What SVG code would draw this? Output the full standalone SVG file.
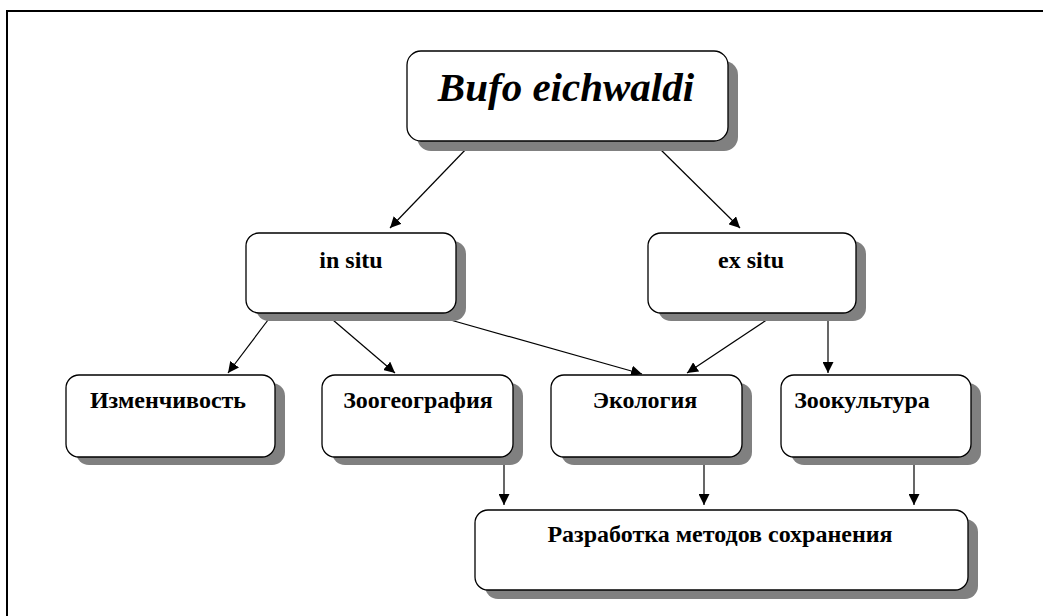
<svg xmlns="http://www.w3.org/2000/svg" width="1043" height="616" viewBox="0 0 1043 616">
<defs>
<style>
.sh{fill:#808080;stroke:none}
.bx{fill:#fff;stroke:#000;stroke-width:1.3}
.t{font-family:"Liberation Serif","Times New Roman",serif;font-weight:bold;font-size:24px;fill:#000;text-anchor:middle}
.ti{font-family:"Liberation Serif","Times New Roman",serif;font-weight:bold;font-style:italic;font-size:41px;fill:#000;text-anchor:middle}
.c{stroke:#000;stroke-width:1.2;fill:none;marker-end:url(#ah)}
</style>
<marker id="ah" viewBox="0 0 10 10" refX="10" refY="5" markerWidth="11" markerHeight="11" markerUnits="userSpaceOnUse" orient="auto">
<path d="M0,0 L10,5 L0,10 z" fill="#000"/>
</marker>
</defs>
<rect width="1043" height="616" fill="#fff"/>
<rect x="7" y="11" width="1050" height="620" fill="none" stroke="#000" stroke-width="2"/>
<g id="connectors">
<line class="c" x1="468" y1="147" x2="390" y2="228"/>
<line class="c" x1="658" y1="147" x2="740" y2="228"/>
<line class="c" x1="268" y1="320" x2="228" y2="373"/>
<line class="c" x1="333" y1="320" x2="395" y2="373"/>
<line class="c" x1="447" y1="319" x2="642" y2="374"/>
<line class="c" x1="768" y1="319" x2="687" y2="373"/>
<line class="c" x1="828" y1="319" x2="828" y2="373"/>
<line class="c" x1="504" y1="463" x2="504" y2="505"/>
<line class="c" x1="704" y1="463" x2="704" y2="505"/>
<line class="c" x1="914" y1="463" x2="914" y2="505"/>
</g>
<g id="bufo">
<rect class="sh" x="417" y="61" width="321" height="90" rx="14"/>
<rect class="bx" x="407" y="51" width="321" height="90" rx="14"/>
<text class="ti" x="566" y="101">Bufo eichwaldi</text>
</g>
<g id="insitu">
<rect class="sh" x="256" y="241" width="210" height="80" rx="13"/>
<rect class="bx" x="246" y="233" width="210" height="80" rx="13"/>
<text class="t" x="351" y="268">in  situ</text>
</g>
<g id="exsitu">
<rect class="sh" x="658" y="241" width="208" height="80" rx="13"/>
<rect class="bx" x="648" y="233" width="208" height="80" rx="13"/>
<text class="t" x="751" y="268">ex situ</text>
</g>
<g id="izm">
<rect class="sh" x="76" y="383" width="209" height="82" rx="13"/>
<rect class="bx" x="66" y="375" width="209" height="82" rx="13"/>
<text class="t" x="168" y="408">Изменчивость</text>
</g>
<g id="zoogeo">
<rect class="sh" x="332" y="383" width="191" height="82" rx="13"/>
<rect class="bx" x="322" y="375" width="191" height="82" rx="13"/>
<text class="t" x="418" y="408">Зоогеография</text>
</g>
<g id="ekol">
<rect class="sh" x="561" y="383" width="191" height="82" rx="13"/>
<rect class="bx" x="551" y="375" width="191" height="82" rx="13"/>
<text class="t" x="645" y="408">Экология</text>
</g>
<g id="zookult">
<rect class="sh" x="791" y="383" width="190" height="82" rx="13"/>
<rect class="bx" x="781" y="375" width="190" height="82" rx="13"/>
<text class="t" x="862" y="408">Зоокультура</text>
</g>
<g id="razrab">
<rect class="sh" x="485" y="519" width="493" height="80" rx="13"/>
<rect class="bx" x="475" y="510" width="493" height="80" rx="13"/>
<text class="t" x="720" y="542">Разработка методов сохранения</text>
</g>
</svg>
